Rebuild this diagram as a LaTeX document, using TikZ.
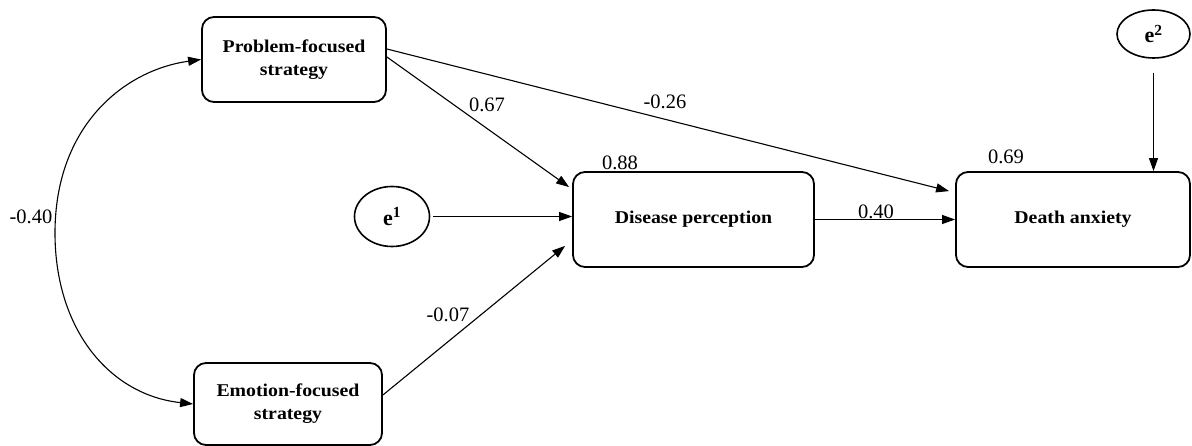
\documentclass[tikz,border=0pt]{standalone}
\usepackage{fontspec}
\setmainfont{Liberation Serif}
\newfontfamily\boxfont[FakeStretch=1.1]{Liberation Serif}
\usetikzlibrary{arrows.meta,shapes.geometric}
\begin{document}
\begin{tikzpicture}[x=1pt,y=-1pt,
  box/.style={draw, line width=1.8pt, rounded corners=12pt, align=center, inner sep=0pt,
    font=\boxfont\bfseries\fontsize{18}{23}\selectfont},
  err/.style={draw, ellipse, line width=1.6pt, inner sep=0pt,
    font=\bfseries\fontsize{22}{24}\selectfont},
  tip/.tip={Triangle[length=13pt,width=9pt]},
  conn/.style={line width=1.1pt, -tip},
  coef/.style={font=\fontsize{20.5}{22}\selectfont, inner sep=0pt}]
\useasboundingbox (0,0) rectangle (1192,446);
% nodes
\node[box, minimum width=184pt, minimum height=85pt] (pf) at (294,59.5) {Problem-focused\\strategy};
\node[box, minimum width=188pt, minimum height=82pt] (ef) at (288,404) {Emotion-focused\\strategy};
\node[box, minimum width=241pt, minimum height=95pt] (dp) at (693.5,219.5) {Disease perception};
\node[box, minimum width=234pt, minimum height=95pt] (da) at (1073,219.5) {Death anxiety};
\node[err, minimum width=75pt, minimum height=60pt] (e1) at (392,216.5) {e$^{\mathbf{1}}$};
\node[err, minimum width=73pt, minimum height=48pt] (e2) at (1153.5,34) {e$^{\mathbf{2}}$};
% connectors
\draw[conn] ([yshift=2.5pt]pf.east) -- ([xshift=-3pt,yshift=-16pt]dp.north west);
\draw[conn] ([yshift=10.5pt]pf.east) -- ([xshift=-6pt,yshift=-20pt]da.north west);
\draw[conn] ([yshift=9pt]ef.east) -- ([xshift=-7pt,yshift=22pt]dp.south west);
\draw[conn, shorten <=3pt] (e1.east) -- (e1.east -| dp.west);
\draw[conn] (dp.east) -- (da.west);
\draw[conn, shorten <=14pt] (e2.south) -- (e2.south |- da.north);
\coordinate (cl) at (55,233);
\draw[line width=1.1pt, tip-tip] (pf.west) .. controls (125,70) and (55,125) .. (cl)
  .. controls (55,330) and (110,395) .. (ef.west);
% coefficients
\node[coef] (c1) at (487,105) {0.67};
\node[coef] (c2) at (665,102) {-0.26};
\node[coef] (c3) at (620,163) {0.88};
\node[coef] (c4) at (876,212) {0.40};
\node[coef] (c5) at (1006,157) {0.69};
\node[coef] (c6) at (31,217) {-0.40};
\node[coef] (c7) at (448,315) {-0.07};
\end{tikzpicture}
\end{document}
